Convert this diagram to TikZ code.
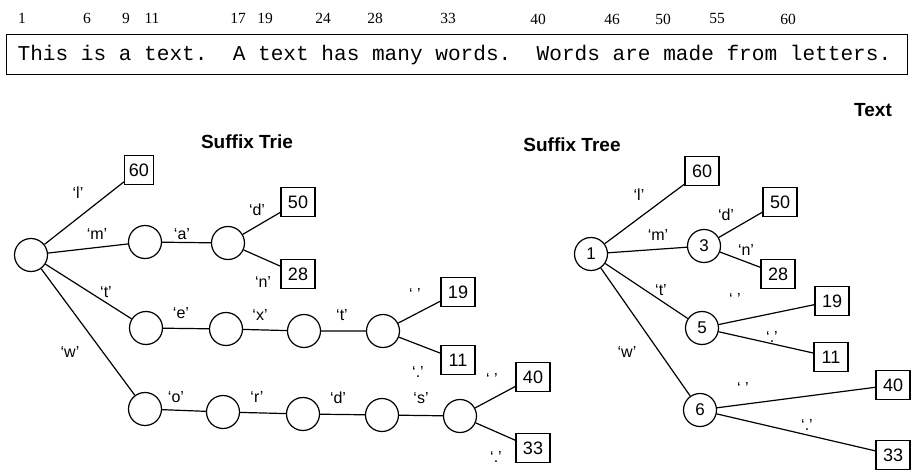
\documentclass[tikz,border=0pt]{standalone}
\usepackage{fontspec}
\setmainfont{Liberation Sans}
\newfontfamily\monofont{Liberation Mono}
\newfontfamily\numfont{Liberation Serif}
\begin{document}
\begin{tikzpicture}[x=1pt,y=-1pt,
  every path/.style={line width=1.2pt},
  state/.style={draw,circle,minimum size=33pt,inner sep=0pt,font=\fontsize{17}{17}\selectfont},
  leaf/.style={draw,minimum width=34pt,minimum height=29pt,inner sep=0pt,font=\fontsize{18}{18}\selectfont},
  lbl/.style={inner sep=0pt,font=\fontsize{16}{16}\selectfont},
  title/.style={inner sep=0pt,font=\fontsize{19}{19}\selectfont\bfseries},
  posnum/.style={inner sep=0pt,font=\fontsize{15.5}{15.5}\numfont}]
\useasboundingbox (0,0) rectangle (912,473);

% ---- the text with its word positions
\node[draw,minimum width=901pt,minimum height=40pt,anchor=north west,inner sep=0pt] (textbox) at (6,34) {};
\node[anchor=west,inner sep=0pt,font=\fontsize{21.1}{21.1}\monofont] (sentence) at (17,55)
  {This is a text.\ \ A text has many words.\ \ Words are made from letters.};
\foreach \n/\x/\y in {1/22/18,6/87/18,9/126/18,11/152/18,17/238/18,19/265/18,24/323/18,28/375/18,33/448/18,
                      40/538/19,46/612/19,50/663/19,55/717/19,60/788/19}
  \node[posnum] (p\n) at (\x,\y) {\n};

\node[title] (texttitle) at (873,110) {Text};

% ---- suffix trie
\node[title] (trietitle) at (247,142) {Suffix Trie};
\node[state] (r0) at (31,255) {};
\node[leaf,minimum width=29pt] (t60) at (139,170) {60};
\node[state] (tm) at (145,242) {};
\node[state] (ta) at (228,243) {};
\node[leaf] (t50) at (298,202) {50};
\node[leaf] (t28) at (298,274) {28};
\node[state] (te1) at (146,328) {};
\node[state] (te2) at (226,329) {};
\node[state] (te3) at (304,331) {};
\node[state] (te4) at (383,331) {};
\node[leaf] (t19) at (458,292) {19};
\node[leaf] (t11) at (458,360) {11};
\node[state] (tw1) at (145,409) {};
\node[state] (tw2) at (223,412) {};
\node[state] (tw3) at (303,414) {};
\node[state] (tw4) at (382,415) {};
\node[state] (tw5) at (460,416) {};
\node[leaf] (t40) at (533,377) {40};
\node[leaf] (t33) at (533,448) {33};

\draw (r0) -- (t60);
\draw (r0) -- (tm) -- (ta) -- (t50);
\draw (ta) -- (t28);
\draw (r0) -- (te1) -- (te2) -- (te3) -- (te4) -- (t19);
\draw (te4) -- (t11);
\draw (r0) -- (tw1) -- (tw2) -- (tw3) -- (tw4) -- (tw5) -- (t40);
\draw (tw5) -- (t33);

\node[lbl] (ql) at (78,193) {‘l’};
\node[lbl] (qm) at (97,234) {‘m’};
\node[lbl] (qa) at (182,234) {‘a’};
\node[lbl] (qd) at (257,210) {‘d’};
\node[lbl] (qn) at (263,282) {‘n’};
\node[lbl] (qt) at (106,292) {‘t’};
\node[lbl] (qe) at (181,313) {‘e’};
\node[lbl] (qx) at (260,315) {‘x’};
\node[lbl] (qt2) at (342,315) {‘t’};
\node[lbl] (qw) at (70,352) {‘w’};
\node[lbl] (qsp) at (415,294) {‘\ ’};
\node[lbl] (qdot) at (418,372) {‘.’};
\node[lbl] (qo) at (176,397) {‘o’};
\node[lbl] (qr) at (257,397) {‘r’};
\node[lbl] (qd2) at (338,398) {‘d’};
\node[lbl] (qs) at (421,398) {‘s’};
\node[lbl] (qsp2) at (492,379) {‘\ ’};
\node[lbl] (qdot2) at (496,457) {‘.’};

% ---- suffix tree
\node[title] (treetitle) at (572,145) {Suffix Tree};
\node[state] (n1) at (591,254) {1};
\node[state] (n3) at (704,246) {3};
\node[state] (n5) at (702,328) {5};
\node[state] (n6) at (700,410) {6};
\node[leaf] (b60) at (702,171) {60};
\node[leaf] (b50) at (780,202) {50};
\node[leaf] (b28) at (778,274) {28};
\node[leaf] (b19) at (832,301) {19};
\node[leaf] (b11) at (831,357) {11};
\node[leaf] (b40) at (893,385) {40};
\node[leaf] (b33) at (893,455) {33};

\draw (n1) -- (b60);
\draw (n1) -- (n3) -- (b50);
\draw (n3) -- (b28);
\draw (n1) -- (n5) -- (b19);
\draw (n5) -- (b11);
\draw (n1) -- (n6) -- (b40);
\draw (n6) -- (b33);

\node[lbl] (sl) at (639,195) {‘l’};
\node[lbl] (sm) at (658,235) {‘m’};
\node[lbl] (sd) at (726,215) {‘d’};
\node[lbl] (sn) at (746,250) {‘n’};
\node[lbl] (st) at (661,290) {‘t’};
\node[lbl] (sw) at (627,352) {‘w’};
\node[lbl] (ssp) at (735,299) {‘\ ’};
\node[lbl] (sdot) at (772,337) {‘.’};
\node[lbl] (ssp2) at (743,388) {‘\ ’};
\node[lbl] (sdot2) at (807,425) {‘.’};
\end{tikzpicture}
\end{document}
